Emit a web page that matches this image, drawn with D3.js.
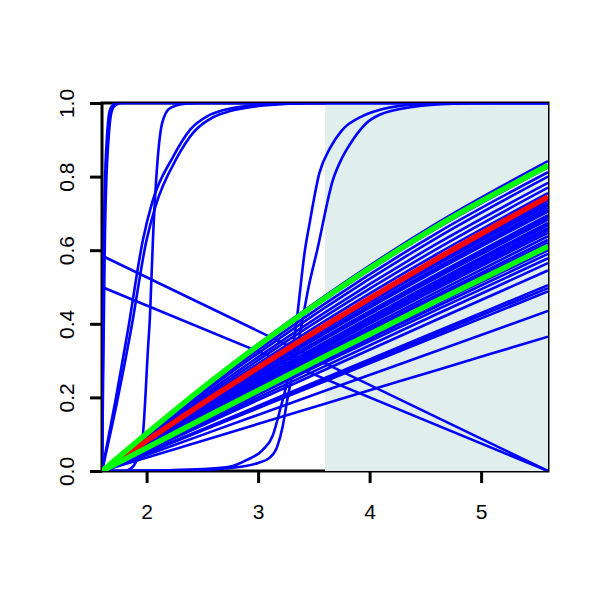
<!DOCTYPE html>
<html>
<head>
<meta charset="utf-8">
<script src="https://cdn.jsdelivr.net/npm/d3@7"></script>
<style>
  body { margin: 0; background: #fff; }
</style>
</head>
<body>
<div id="chart"></div>
<script>
// tick labels
var xTicks = [2, 3, 4, 5];
var yTicks = [0, 0.2, 0.4, 0.6, 0.8, 1.0];

// shaded band on x
var shadeRange = [3.6, 5.6];

// the fan of slow curves, sampled at fanX
var fanX = [1.6, 2.6, 3.6, 4.6, 5.6];
var fanCurves = [
  [0, 0.252, 0.476, 0.673, 0.842],
  [0, 0.246, 0.466, 0.659, 0.825],
  [0, 0.240, 0.455, 0.646, 0.812],
  [0, 0.233, 0.444, 0.633, 0.800],
  [0, 0.225, 0.431, 0.617, 0.783],
  [0, 0.218, 0.420, 0.603, 0.770],
  [0, 0.211, 0.408, 0.589, 0.755],
  [0, 0.203, 0.393, 0.571, 0.735],
  [0, 0.201, 0.389, 0.565, 0.728],
  [0, 0.199, 0.386, 0.560, 0.722],
  [0, 0.195, 0.379, 0.552, 0.715],
  [0, 0.193, 0.376, 0.547, 0.708],
  [0, 0.192, 0.374, 0.545, 0.705],
  [0, 0.187, 0.365, 0.534, 0.695],
  [0, 0.185, 0.362, 0.529, 0.690],
  [0, 0.184, 0.359, 0.525, 0.683],
  [0, 0.179, 0.350, 0.516, 0.674],
  [0, 0.177, 0.347, 0.511, 0.668],
  [0, 0.175, 0.343, 0.505, 0.660],
  [0, 0.174, 0.341, 0.501, 0.655],
  [0, 0.171, 0.336, 0.495, 0.647],
  [0, 0.167, 0.329, 0.486, 0.638],
  [0, 0.164, 0.323, 0.478, 0.628],
  [0, 0.162, 0.319, 0.472, 0.620],
  [0, 0.158, 0.315, 0.466, 0.612],
  [0, 0.155, 0.306, 0.455, 0.600],
  [0, 0.152, 0.301, 0.447, 0.590],
  [0, 0.149, 0.295, 0.438, 0.578],
  [0, 0.143, 0.285, 0.426, 0.565],
  [0, 0.138, 0.275, 0.411, 0.545],
  [0, 0.126, 0.253, 0.379, 0.505],
  [0, 0.124, 0.249, 0.373, 0.497],
  [0, 0.122, 0.244, 0.366, 0.488],
  [0, 0.109, 0.218, 0.326, 0.435],
  [0, 0.091, 0.183, 0.274, 0.365]
];
var redCurve = [0, 0.203, 0.395, 0.576, 0.745];
var greenUpper = [0, 0.249, 0.470, 0.664, 0.830];
var greenLower = [0, 0.157, 0.311, 0.462, 0.610];

// fast curves, [x, y] points
var nearVertical1 = [[1.6,0],[1.605,0.2],[1.612,0.45],[1.618,0.65],[1.628,0.8],[1.64,0.886],[1.655,0.95],[1.672,0.982],[1.70,0.995],[1.75,1],[5.6,1]];
var nearVertical2 = [[1.6,0],[1.608,0.2],[1.618,0.45],[1.627,0.65],[1.64,0.8],[1.655,0.886],[1.672,0.95],[1.69,0.98],[1.72,0.994],[1.78,1],[5.6,1]];
var earlyRise1 = [[1.6,0],[1.72,0.19],[1.833,0.383],[1.967,0.628],[2.05,0.73],[2.236,0.853],[2.389,0.927],[2.55,0.965],[2.684,0.98],[3.0,0.995],[3.4,1],[5.6,1]];
var earlyRise2 = [[1.6,0],[1.73,0.18],[1.86,0.383],[2.0,0.628],[2.08,0.72],[2.27,0.85],[2.42,0.92],[2.6,0.962],[2.75,0.978],[3.05,0.993],[3.5,1],[5.6,1]];
var stepNear2 = [[1.6,0],[1.8,0],[1.85,0.005],[1.9,0.022],[1.94,0.06],[1.967,0.10],[2.012,0.33],[2.03,0.42],[2.057,0.63],[2.10,0.85],[2.14,0.946],[2.21,0.986],[2.35,0.998],[2.48,1],[5.6,1]];
var stepNear3a = [[1.6,0],[2.2,0.002],[2.5,0.005],[2.75,0.012],[2.9,0.03],[3.04,0.057],[3.13,0.095],[3.2,0.17],[3.285,0.28],[3.35,0.42],[3.42,0.60],[3.46,0.67],[3.55,0.81],[3.65,0.88],[3.75,0.925],[3.94,0.965],[4.1,0.982],[4.45,0.997],[4.8,1],[5.6,1]];
var stepNear3b = [[1.6,0],[2.5,0.003],[2.75,0.008],[3.0,0.022],[3.1,0.035],[3.17,0.065],[3.22,0.12],[3.26,0.19],[3.35,0.33],[3.46,0.51],[3.53,0.60],[3.67,0.79],[3.76,0.855],[3.85,0.90],[3.97,0.945],[4.09,0.968],[4.4,0.99],[4.75,0.998],[5.1,1],[5.6,1]];
var fallLine1 = [[1.6,0.585],[5.6,0]];
var fallLine2 = [[1.6,0.50],[5.6,0]];

var svgWidth = 600;
var svgHeight = 600;

var margin = {
    top: 103,
    right: 52,
    bottom: 129,
    left: 102
};

var chartWidth = svgWidth - margin.left - margin.right;
var chartHeight = svgHeight - margin.top - margin.bottom;

var svg = d3.select("#chart")
    .append("svg")
    .attr("width", svgWidth)
    .attr("height", svgHeight);

var chartGroup = svg.append("g")
    .attr("transform", `translate(${margin.left},${margin.top})`);

var xScale = d3.scaleLinear().domain([1.6, 5.6]).range([0, chartWidth]);
var yScale = d3.scaleLinear().domain([0, 1]).range([chartHeight, 0]);

// box first, shading goes over it like in the original
chartGroup.append("rect")
    .attr("x", 0).attr("y", 0)
    .attr("width", chartWidth).attr("height", chartHeight)
    .attr("fill", "none")
    .attr("stroke", "#000")
    .attr("stroke-width", 3);

var bottomAxis = d3.axisBottom(xScale).tickValues(xTicks).tickSize(12).tickPadding(21)
    .tickFormat(d3.format("d"));
var leftAxis = d3.axisLeft(yScale).tickValues(yTicks).tickSize(12)
    .tickFormat(d3.format(".1f"));

var xAxis = chartGroup.append("g")
    .attr("transform", `translate(0, ${chartHeight})`)
    .call(bottomAxis);
var yAxis = chartGroup.append("g").call(leftAxis);

[xAxis, yAxis].forEach(function(ax) {
    ax.attr("font-size", 21).attr("font-family", "'Liberation Sans', Arial, sans-serif");
    ax.select(".domain").remove();
    ax.selectAll(".tick line").attr("stroke", "#000").attr("stroke-width", 3);
    ax.selectAll(".tick text").attr("fill", "#000");
});

yAxis.selectAll(".tick text")
    .attr("transform", "rotate(-90)")
    .attr("x", 0)
    .attr("y", -28)
    .attr("dy", 0)
    .attr("text-anchor", "middle");

chartGroup.append("rect")
    .attr("x", xScale(shadeRange[0]))
    .attr("y", yScale(1))
    .attr("width", xScale(shadeRange[1]) - xScale(shadeRange[0]))
    .attr("height", yScale(0) - yScale(1))
    .attr("fill", "#E0EEEE");

svg.append("clipPath").attr("id", "plotclip")
  .append("rect")
    .attr("width", chartWidth).attr("height", chartHeight);

var lines = chartGroup.append("g").attr("clip-path", "url(#plotclip)");

var pointLine = d3.line()
    .x(d => xScale(d[0]))
    .y(d => yScale(d[1]))
    .curve(d3.curveMonotoneX);

function fanPoints(vals) {
    return vals.map((v, i) => [fanX[i], v]);
}

function drawLine(points, color, width) {
    lines.append("path")
        .attr("d", pointLine(points))
        .attr("fill", "none")
        .attr("stroke", color)
        .attr("stroke-width", width)
        .attr("stroke-linejoin", "round");
}

fanCurves.forEach(c => drawLine(fanPoints(c), "#0000FF", 2.6));
[nearVertical1, nearVertical2, earlyRise1, earlyRise2, stepNear2,
 stepNear3a, stepNear3b, fallLine1, fallLine2].forEach(c => drawLine(c, "#0000FF", 2.6));

drawLine(fanPoints(redCurve), "#FF0000", 5.5);
drawLine(fanPoints(greenUpper), "#00FF00", 5.5);
drawLine(fanPoints(greenLower), "#00FF00", 5.5);
</script>
</body>
</html>
